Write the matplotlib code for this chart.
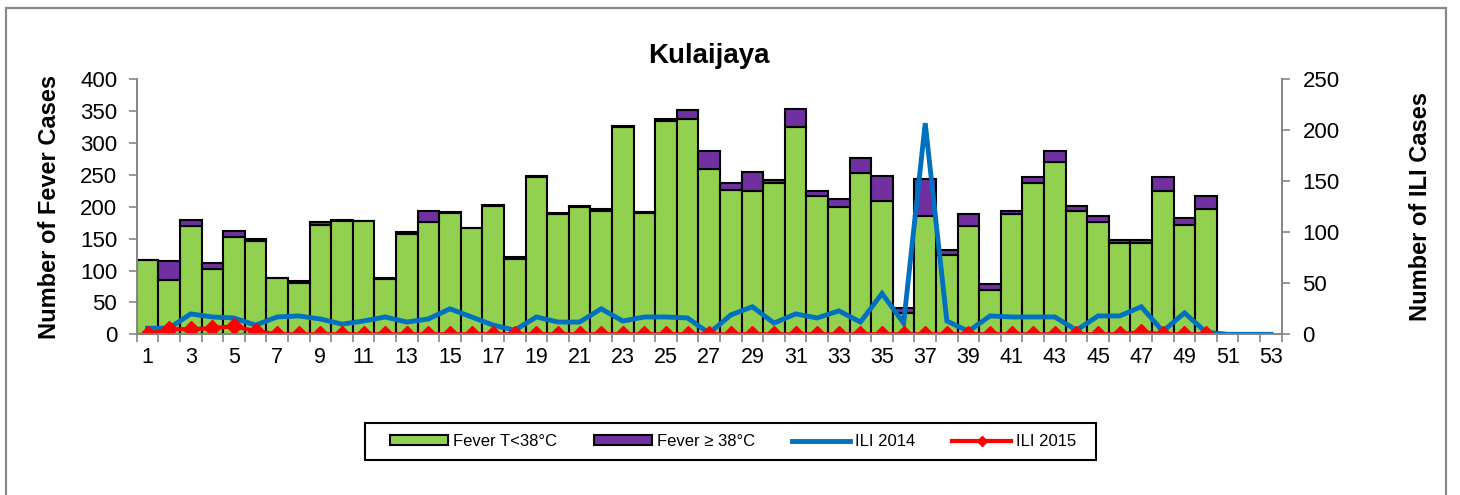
import numpy as np
import matplotlib.pyplot as plt
from matplotlib.patches import Patch, Rectangle
from matplotlib.lines import Line2D

plt.rcParams['font.family'] = ['Liberation Sans', 'DejaVu Sans']

weeks = np.arange(1, 54)
# fever cases per week (weeks 1-50)
fever_low = [116, 85, 170, 103, 152, 146, 88, 81, 172, 178, 177, 86, 158, 176, 191, 166, 202,
             118, 247, 188, 200, 194, 325, 191, 335, 337, 260, 227, 225, 237, 325, 217, 200,
             253, 209, 34, 186, 124, 170, 70, 189, 238, 270, 193, 176, 144, 144, 225, 171, 197]
fever_high = [1, 30, 9, 9, 10, 4, 1, 2, 4, 1, 1, 2, 3, 18, 1, 1, 1, 3, 2, 2, 2, 2, 2, 1, 2,
              15, 28, 11, 29, 5, 28, 8, 13, 24, 39, 7, 57, 8, 18, 9, 5, 9, 18, 8, 9, 4, 4,
              22, 12, 20]
ili_2014 = [6, 6, 20, 17, 16, 9, 17, 18, 15, 10, 13, 17, 12, 15, 25, 17, 9, 4, 17, 12, 12,
            25, 13, 17, 17, 16, 1, 19, 27, 11, 20, 16, 23, 12, 40, 11, 207, 13, 3, 18, 17, 17,
            17, 4, 18, 18, 27, 3, 21, 2, 0, 0, 0]
ili_2015 = [0, 5, 5, 6, 8, 3, 0, 0, 0, 0, 0, 0, 0, 0, 0, 0, 0, 0, 0, 0, 0, 0, 0, 0, 0,
            0, 0, 0, 0, 0, 0, 0, 0, 0, 0, 0, 0, 0, 0, 0, 0, 0, 0, 0, 0, 0, 2, 0, 0, 0]

green = '#92D050'
purple = '#7030A0'
blue = '#0070C0'
red = '#FF0000'
grey = '#868686'

fig = plt.figure(figsize=(14.6, 4.95), dpi=100)
ax = fig.add_axes([136.7 / 1460, 1 - 334.3 / 495, (1281.7 - 136.7) / 1460, (334.3 - 79.3) / 495])
ax2 = ax.twinx()

n = len(fever_low)
x = weeks[:n]
ax.bar(x, fever_low, width=1.0, color=green, edgecolor='black', linewidth=1.5)
ax.bar(x, fever_high, bottom=fever_low, width=1.0, color=purple, edgecolor='black', linewidth=1.5)

ax2.plot(weeks, ili_2014, color=blue, linewidth=3.5, solid_joinstyle='miter')
ax2.plot(weeks[:len(ili_2015)], ili_2015, color=red, linewidth=3.0, marker='D', markersize=8.5)

ax.set_xlim(0.5, 53.5)
ax.set_ylim(0, 400)
ax2.set_ylim(0, 250)
ax.set_yticks(np.arange(0, 401, 50))
ax2.set_yticks(np.arange(0, 251, 50))

# category boundaries get the tick marks, odd weeks get labels
ax.set_xticks(np.arange(0.5, 54, 1))
ax.set_xticklabels([])
ax.set_xticks(weeks[::2], minor=True)
ax.set_xticklabels([str(w) for w in weeks[::2]], minor=True)
ax.tick_params(axis='x', which='major', length=6, color=grey, width=1.2, direction='out')
ax.tick_params(axis='x', which='minor', length=0, labelsize=15.5, pad=9)
ax.tick_params(axis='y', length=6, color=grey, width=1.2, labelsize=16, pad=8)
ax2.tick_params(axis='y', length=6, color=grey, width=1.2, labelsize=16, pad=9)

for a in (ax, ax2):
    a.spines['top'].set_visible(False)
    for s in ('left', 'right', 'bottom'):
        a.spines[s].set_color(grey)
        a.spines[s].set_linewidth(1.3)

ax.set_ylabel('Number of Fever Cases', fontsize=17, fontweight='bold', labelpad=14)
ax2.set_ylabel('Number of ILI Cases', fontsize=17, fontweight='bold', labelpad=50)
ax.set_title('Kulaijaya', fontsize=20, fontweight='bold', pad=12)

handles = [Patch(facecolor=green, edgecolor='black', linewidth=1.5),
           Patch(facecolor=purple, edgecolor='black', linewidth=1.5),
           Line2D([], [], color=blue, linewidth=3.5),
           Line2D([], [], color=red, linewidth=3.0, marker='D', markersize=5)]
labels = ['Fever T<38°C', 'Fever ≥ 38°C', 'ILI 2014', 'ILI 2015']
fig.legend(handles, labels, loc='center', ncol=4,
           bbox_to_anchor=(733 / 1460, 1 - 441.5 / 495),
           fontsize=12, frameon=False,
           handlelength=3.5, handleheight=0.55, handletextpad=0.3, columnspacing=2.2)
# legend box
fig.add_artist(Rectangle((365 / 1460, 1 - 460 / 495), 731 / 1460, 37 / 495,
                         transform=fig.transFigure, fill=False, edgecolor='black',
                         linewidth=1.5))

fig.add_artist(Rectangle((5.7 / 1460, -0.05), (1445.7 - 5.7) / 1460, 1.05 - 7.7 / 495,
                         transform=fig.transFigure, fill=False, edgecolor='#898989',
                         linewidth=1.6))

fig.savefig('out.png', dpi=100)
